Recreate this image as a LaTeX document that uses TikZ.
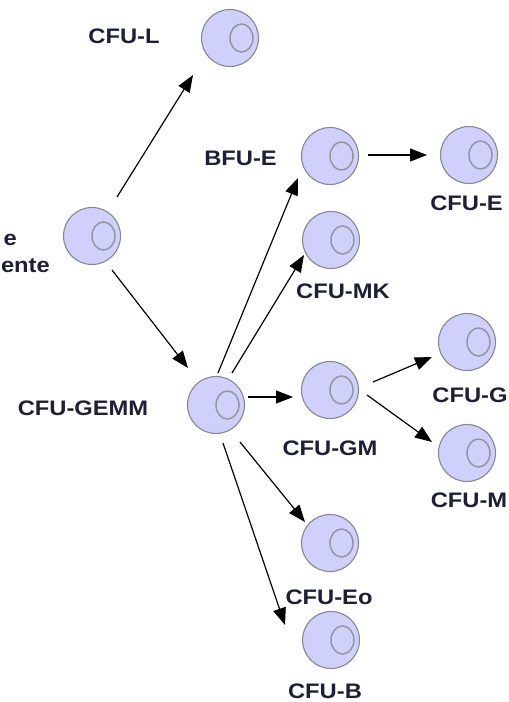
\documentclass[tikz,border=0pt]{standalone}
\usepackage{fontspec}
\setmainfont{Liberation Sans}[FakeStretch=1.13]
\usetikzlibrary{arrows.meta}
\definecolor{cellfill}{RGB}{208,208,252}
\definecolor{cellline}{RGB}{135,135,145}
\definecolor{nucline}{RGB}{150,150,158}
\definecolor{txt}{RGB}{30,30,55}
\tikzset{
  cell/.style={circle,draw=cellline,line width=1.1pt,fill=cellfill,minimum size=57pt,inner sep=0pt,
    path picture={\draw[nucline,line width=1.5pt] ([xshift=11.5pt]path picture bounding box.center) ellipse (11.5pt and 14pt);}},
  lbl/.style={anchor=base,inner sep=0pt,text=txt,font=\bfseries\fontsize{21}{24}\selectfont},
  arr/.style={line width=1.2pt,draw=black,-{Triangle[length=17pt,width=13pt]}}
}
\begin{document}
\begin{tikzpicture}[x=1pt,y=-1pt]
\useasboundingbox (0,0) rectangle (509,702);
% cells
\node[cell] (prog) at (92,236) {};
\node[cell] (cful) at (230,38) {};
\node[cell] (bfue) at (330,156) {};
\node[cell] (cfue) at (469,155) {};
\node[cell] (cfumk) at (331,240) {};
\node[cell] (gemm) at (216,405) {};
\node[cell] (gm) at (330,390) {};
\node[cell] (cfug) at (467,342) {};
\node[cell] (cfum) at (467,453) {};
\node[cell] (eo) at (330,543) {};
\node[cell] (cfub) at (331,640) {};
% labels
\node[lbl,anchor=base east] (lprog1) at (17,245) {e};
\node[lbl,anchor=base east] (lprog2) at (50,272) {ente};
\node[lbl] (lcful) at (124,43) {CFU-L};
\node[lbl] (lbfue) at (240.5,165) {BFU-E};
\node[lbl] (lcfue) at (466.5,210) {CFU-E};
\node[lbl] (lcfumk) at (343,298) {CFU-MK};
\node[lbl] (lgemm) at (83,415) {CFU-GEMM};
\node[lbl] (lgm) at (330,455) {CFU-GM};
\node[lbl] (lcfug) at (470,402) {CFU-G};
\node[lbl] (lcfum) at (469,507) {CFU-M};
\node[lbl] (leo) at (329,604) {CFU-Eo};
\node[lbl] (lcfub) at (325,698) {CFU-B};
% connectors
\draw[arr] ([shift={(25,-39)}]prog.center) -- ([shift={(-37,37)}]cful.center);
\draw[arr] ([shift={(20,34)}]prog.center) -- ([shift={(-28,-37)}]gemm.center);
\draw[arr] ([shift={(38,-1)}]bfue.center) -- ([shift={(-42,0)}]cfue.center);
\draw[arr] ([shift={(2,-32)}]gemm.center) -- ([shift={(-32,22)}]bfue.center);
\draw[arr] ([shift={(16,-32)}]gemm.center) -- ([shift={(-27,15)}]cfumk.center);
\draw[arr] ([shift={(32,-8)}]gemm.center) -- ([shift={(-37,7)}]gm.center);
\draw[arr] ([shift={(43,-8)}]gm.center) -- ([shift={(-35,15)}]cfug.center);
\draw[arr] ([shift={(37,5)}]gm.center) -- ([shift={(-35,-11)}]cfum.center);
\draw[arr] ([shift={(24,37)}]gemm.center) -- ([shift={(-25,-21)}]eo.center);
\draw[arr] ([shift={(7,38)}]gemm.center) -- ([shift={(-46,-15)}]cfub.center);
\end{tikzpicture}
\end{document}
